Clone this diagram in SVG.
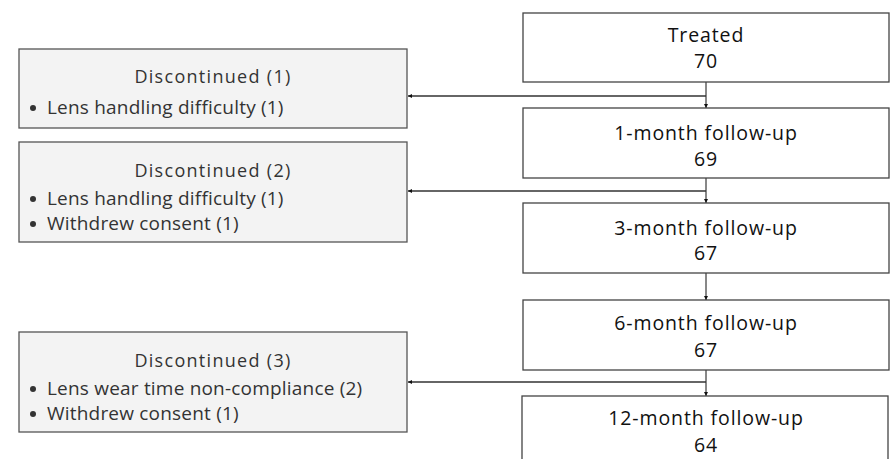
<svg xmlns="http://www.w3.org/2000/svg" width="893" height="459" viewBox="0 0 893 459">
<defs>
<marker id="ah" viewBox="0 0 10 10" refX="10" refY="5" markerWidth="4" markerHeight="4" orient="auto" markerUnits="userSpaceOnUse">
<path d="M0,0 L10,5 L0,10 z" fill="#111"/>
</marker>
<style>
.main{fill:#fff;stroke:#444;stroke-width:1.3}
.side{fill:#f3f3f3;stroke:#555;stroke-width:1.3}
.t{font-family:"Open Sans","Noto Sans",sans-serif;font-size:19.5px;fill:#111;text-anchor:middle;letter-spacing:0.9px}
.h{font-family:"Open Sans","Noto Sans",sans-serif;font-size:18px;fill:#333;text-anchor:middle;letter-spacing:1.3px}
.b{font-family:"Open Sans","Noto Sans",sans-serif;font-size:19px;fill:#333;letter-spacing:0.2px}
.conn{stroke:#111;stroke-width:1;fill:none}
.connh{stroke:#333;stroke-width:1.4;fill:none}
</style>
</defs>
<g id="connectors">
<line class="conn" x1="706" y1="82" x2="706" y2="108" marker-end="url(#ah)"/>
<line class="conn" x1="706" y1="178" x2="706" y2="203" marker-end="url(#ah)"/>
<line class="conn" x1="706" y1="273" x2="706" y2="300" marker-end="url(#ah)"/>
<line class="conn" x1="706" y1="370" x2="706" y2="396" marker-end="url(#ah)"/>
<line class="connh" x1="706" y1="96" x2="408" y2="96" marker-end="url(#ah)"/>
<line class="connh" x1="706" y1="191" x2="408" y2="191" marker-end="url(#ah)"/>
<line class="connh" x1="706" y1="382" x2="408" y2="382" marker-end="url(#ah)"/>
</g>
<g id="treated">
<rect class="main" x="523" y="13" width="366" height="69"/>
<text class="t" x="706" y="42">Treated</text>
<text class="t" x="706" y="68">70</text>
</g>
<g id="m1">
<rect class="main" x="523" y="108" width="366" height="70"/>
<text class="t" x="706" y="140">1-month follow-up</text>
<text class="t" x="706" y="166">69</text>
</g>
<g id="m3">
<rect class="main" x="523" y="203" width="366" height="70"/>
<text class="t" x="706" y="235">3-month follow-up</text>
<text class="t" x="706" y="260">67</text>
</g>
<g id="m6">
<rect class="main" x="523" y="300" width="366" height="70"/>
<text class="t" x="706" y="330">6-month follow-up</text>
<text class="t" x="706" y="357">67</text>
</g>
<g id="m12">
<rect class="main" x="522" y="396" width="366" height="70"/>
<text class="t" x="706" y="425">12-month follow-up</text>
<text class="t" x="706" y="452">64</text>
</g>
<g id="disc1">
<rect class="side" x="19" y="49" width="388" height="79"/>
<text class="h" x="213" y="83">Discontinued (1)</text>
<circle cx="33" cy="108" r="3" fill="#333"/>
<text class="b" x="47" y="114">Lens handling difficulty (1)</text>
</g>
<g id="disc2">
<rect class="side" x="19" y="142" width="388" height="100"/>
<text class="h" x="213" y="177">Discontinued (2)</text>
<circle cx="33" cy="199" r="3" fill="#333"/>
<text class="b" x="47" y="205">Lens handling difficulty (1)</text>
<circle cx="33" cy="224" r="3" fill="#333"/>
<text class="b" x="47" y="230">Withdrew consent (1)</text>
</g>
<g id="disc3">
<rect class="side" x="19" y="332" width="388" height="100"/>
<text class="h" x="213" y="367">Discontinued (3)</text>
<circle cx="33" cy="389" r="3" fill="#333"/>
<text class="b" x="47" y="395">Lens wear time non-compliance (2)</text>
<circle cx="33" cy="414" r="3" fill="#333"/>
<text class="b" x="47" y="420">Withdrew consent (1)</text>
</g>
</svg>
